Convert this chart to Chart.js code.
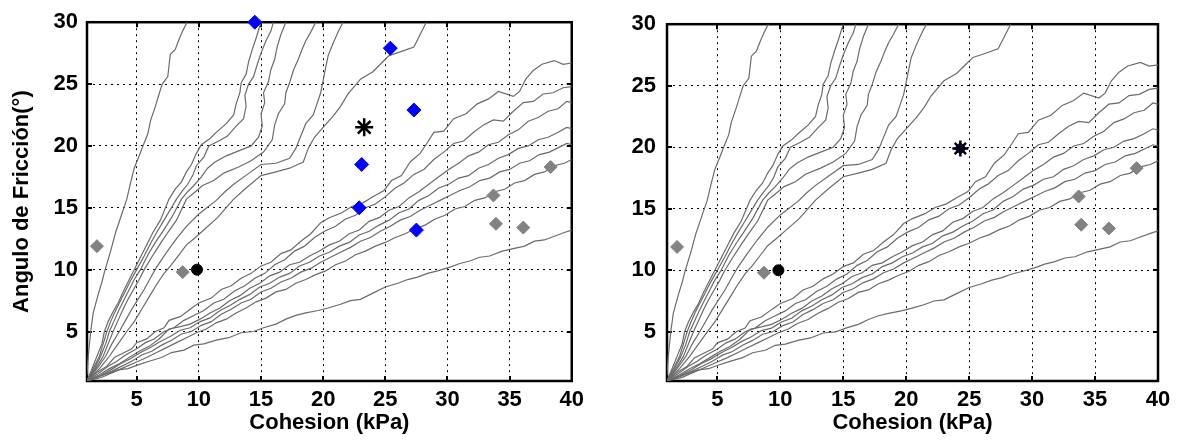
<!DOCTYPE html>
<html>
<head>
<meta charset="utf-8">
<script src="https://cdn.jsdelivr.net/npm/chart.js@4.4.1/dist/chart.umd.min.js"></script>
<style>
  html, body { margin: 0; padding: 0; background: #fff; }
  #wrap { position: relative; width: 1182px; height: 441px; }
  canvas { position: absolute; top: 0; }
</style>
</head>
<body>
<div id="wrap">
  <canvas id="chartLeft" width="590" height="441" style="left:0"></canvas>
  <canvas id="chartRight" width="592" height="441" style="left:590px"></canvas>
</div>
<script>
const xTicks = [5, 10, 15, 20, 25, 30, 35, 40];
const yTicks = [5, 10, 15, 20, 25, 30];

// contour lines, [cohesion kPa, friction angle deg]
const curveL1 = [[1,1.5],[1.1,3],[1.3,5],[1.5,6.5],[1.9,8],[2.2,9],[2.4,9.8],[2.9,11.5],[3.3,13],[3.8,14.5],[4.2,15.7],[4.5,17],[4.8,18.2],[5.2,19.2],[5.5,20],[5.9,21],[6.1,22],[6.5,23.2],[6.8,24.2],[7.05,25],[7.5,25.6],[7.6,26.5],[7.7,27.4],[8.1,27.8],[8.4,28.6],[8.7,29.3],[9.05,30]];
const curveA = [[1,1],[1.4,2],[1.8,3],[2.2,4],[2.4,5],[2.7,5.8],[3.1,6.6],[3.5,7.3],[3.9,8.2],[4.3,9],[4.8,10],[5.3,11],[5.8,12],[6.3,13],[6.9,14],[7.6,15.7],[8.1,16.5],[8.6,17.1],[9.0,17.9],[9.4,18.5],[9.8,19.4],[10.2,20.1],[10.9,20.6],[11.4,21.1],[12.2,21.8],[12.8,22.5],[13.0,23.4],[13.3,24.3],[13.4,25.1],[13.8,25.8],[14.0,26.8],[14.3,27.8],[14.6,28.7],[15.0,30]];
const curveB = [[1,1],[1.5,2],[2,3],[2.3,4],[2.6,5],[2.9,5.8],[3.3,6.7],[3.7,7.5],[4.1,8.3],[4.5,9.1],[5.0,10],[5.6,11.1],[6.1,12.1],[6.6,13],[7.2,14],[8.2,15.7],[8.7,16.4],[9.1,16.9],[9.5,17.6],[9.8,18.4],[10.4,19.1],[10.8,20],[11.6,20.4],[12.3,20.8],[13.0,21.6],[13.6,22.2],[13.8,23.2],[13.7,24.1],[14.0,25],[14.4,25.6],[14.7,26.6],[15.0,27.5],[15.4,28.5],[15.8,29.3],[16.0,30]];
const curveC = [[1,1],[1.6,2],[2.1,3],[2.5,4],[2.8,5],[3.2,5.9],[3.6,6.8],[4.0,7.6],[4.4,8.4],[4.8,9.2],[5.3,10],[5.9,11.2],[6.5,12.2],[7.1,13.1],[7.8,14.2],[8.6,15.7],[9.1,16.3],[9.6,16.8],[10.2,17.5],[10.7,18.2],[11.3,18.7],[12.2,19.2],[13.2,19.6],[14.2,20],[14.8,20.7],[15.1,21.6],[15.0,22.6],[15.3,23.5],[15.2,24.3],[15.6,25.2],[15.8,26.2],[16.1,27],[16.3,28],[16.6,29],[17.0,30]];
const curveD = [[1,1],[1.7,2],[2.3,3],[2.7,4],[3.1,5],[3.5,5.9],[3.9,6.8],[4.3,7.6],[4.8,8.5],[5.2,9.2],[5.6,10],[6.2,11],[6.9,12.1],[7.5,13],[8.2,14],[9.0,15.7],[9.6,16.2],[10.3,16.8],[11.2,17.2],[12.0,17.8],[13.2,18.3],[14.2,18.8],[15.2,19.5],[15.9,20.5],[16.1,21.7],[16.4,22.6],[16.9,23.4],[17.0,24.3],[17.3,25.1],[17.6,26.1],[18.0,27],[18.3,27.8],[18.6,28.5],[19.0,29.2],[19.4,30]];
const curveE = [[1,1],[1.8,2],[2.5,3],[3.0,4],[3.6,5],[4.1,5.9],[4.6,6.8],[5.1,7.6],[5.6,8.4],[6.2,9.5],[6.6,10.2],[7.4,11.4],[8.2,12.5],[9.0,13.5],[10.0,14.5],[11.4,15.6],[12.1,16.3],[12.8,16.9],[13.9,17.7],[15.0,18.5],[16.2,18.6],[17.3,19.0],[17.8,19.8],[18.2,20.8],[18.6,21.8],[19.2,22.5],[19.5,23.4],[19.8,24.3],[20.0,25.3],[20.2,26.3],[20.4,27.3],[20.8,28.3],[21.2,29.2],[21.6,30]];
const curveF = [[1,1],[2,2],[2.8,3],[3.5,4],[4.2,5],[4.8,5.8],[5.4,6.8],[6.0,7.8],[6.6,8.8],[7.2,9.7],[7.8,10.4],[8.4,11.2],[9.0,12],[9.6,12.5],[10.5,13.3],[11.5,14.2],[12.8,15.7],[13.8,16.6],[15.0,17.6],[16.2,17.9],[17.3,18.2],[18.4,18.7],[18.8,19.8],[19.3,20.7],[20.0,21.5],[20.8,22.4],[21.4,23.2],[22.0,24.2],[23.0,25.4],[24.0,26.0],[24.6,26.6],[25.3,27.3],[26.2,27.6],[27.3,28.0],[27.7,28.8],[28.3,30]];
const curveM1 = [[1,1],[1.8,1.7],[2.6,2.2],[3.2,2.9],[4,3.3],[4.6,3.6],[5,4.1],[5.8,4.4],[6.5,5.0],[7.2,5.3],[7.6,5.9],[8.5,6.2],[9.3,6.8],[10,7.3],[11,7.7],[11.8,8.4],[12.6,8.7],[13.4,9.3],[14.2,9.7],[15,10.3],[15.8,10.6],[16.6,11.3],[17.4,11.6],[18.2,12.3],[19,12.9],[19.8,13.8],[20.5,14.2],[21.5,14.6],[22.3,15.1],[23.2,15.4],[24,15.9],[24.9,16.4],[25.5,17.2],[26.3,17.6],[27,18.7],[27.8,19.4],[28.4,20.3],[28.9,21.1],[29.7,21.2],[30.5,22.2],[31.5,22.6],[32.4,23.4],[33.3,23.8],[34.1,24.4],[35.3,24.0],[35.8,24.4],[36.3,25.4],[36.9,26.1],[37.6,26.6],[38.6,26.9],[39.3,26.6],[40,26.7]];
const curveM2 = [[1,1],[1.9,1.6],[2.7,2.2],[3.4,2.6],[4.1,3.1],[5,3.6],[5.7,4.1],[6.4,4.4],[7.2,5.0],[8,5.3],[8.8,5.9],[9.6,6.3],[10.4,6.7],[11.2,7.3],[12,7.6],[12.9,8.3],[13.7,8.7],[14.5,9.3],[15.3,9.7],[16.1,10.4],[16.9,10.8],[17.7,11.5],[18.5,11.9],[19.3,12.6],[20.1,13.1],[21,13.5],[21.8,14.1],[22.6,14.4],[23.4,15.0],[24.2,15.3],[25,15.9],[25.8,16.6],[26.5,17.0],[27.3,17.7],[28.1,18.1],[28.9,18.9],[29.7,19.5],[30.5,20.2],[31.3,20.4],[32.1,21.1],[32.9,21.7],[33.7,22.1],[34.5,22.0],[35.3,22.8],[36.1,23.5],[36.9,23.6],[37.7,24.2],[38.5,24.3],[39.3,24.7],[40,24.8]];
const curveM3 = [[1,1],[2,1.5],[2.8,2.0],[3.6,2.4],[4.4,2.9],[5.2,3.4],[6,3.8],[6.8,4.4],[7.6,5.2],[8.5,5.4],[9.3,5.6],[10.1,6.0],[10.9,6.5],[11.7,6.9],[12.5,7.5],[13.3,7.9],[14.1,8.5],[14.9,8.9],[15.7,9.5],[16.5,9.8],[17.3,10.4],[18.1,10.6],[18.9,11.1],[19.7,11.5],[20.5,12.0],[21.3,12.3],[22.1,12.9],[22.9,13.2],[23.7,13.9],[24.5,14.2],[25.3,14.8],[26.1,15.1],[26.9,15.8],[27.7,16.3],[28.5,16.9],[29.3,17.5],[30.1,18.1],[30.9,18.6],[31.7,19.2],[32.5,19.5],[33.3,20.1],[34.1,20.3],[34.9,20.9],[35.7,21.3],[36.5,22.0],[37.3,22.3],[38.1,22.8],[38.9,23.0],[39.6,23.6],[40,23.5]];
const curveM4 = [[1,1],[2,1.4],[2.9,1.9],[3.7,2.4],[4.5,2.8],[5.3,3.3],[6.1,3.7],[6.9,4.2],[7.7,4.6],[8.5,5.1],[9.3,5.3],[10.1,5.8],[10.9,6.1],[11.7,6.7],[12.5,7.1],[13.3,7.6],[14.1,8.0],[14.9,8.6],[15.7,8.9],[16.5,9.4],[17.3,9.7],[18.1,10.3],[18.9,10.6],[19.7,11.1],[20.5,11.4],[21.3,11.9],[22.1,12.2],[22.9,12.8],[23.7,13.1],[24.5,13.6],[25.3,14.0],[26.1,14.6],[26.9,14.9],[27.7,15.6],[28.5,16.0],[29.3,16.6],[30.1,16.9],[30.9,17.4],[31.7,17.6],[32.5,18.2],[33.3,18.5],[34.1,19.0],[34.9,19.3],[35.7,19.8],[36.5,20.0],[37.3,20.5],[38.1,20.7],[38.9,21.1],[39.6,21.5],[40,21.4]];
const curveM5 = [[1,1],[2.1,1.4],[3,1.8],[3.8,2.2],[4.6,2.6],[5.4,3.1],[6.2,3.4],[7,3.9],[7.8,4.3],[8.6,4.8],[9.4,5.0],[10.2,5.5],[11,5.8],[11.8,6.4],[12.6,6.8],[13.4,7.3],[14.2,7.6],[15,8.2],[15.8,8.5],[16.6,9.0],[17.4,9.3],[18.2,9.8],[19,10.1],[19.8,10.6],[20.6,11.0],[21.4,11.4],[22.2,11.8],[23,12.3],[23.8,12.6],[24.6,13.1],[25.4,13.5],[26.2,14.0],[27,14.3],[27.8,14.8],[28.6,15.2],[29.4,15.6],[30.2,16.0],[31,16.4],[31.8,16.7],[32.6,17.2],[33.4,17.4],[34.2,17.9],[35,18.1],[35.8,18.6],[36.6,18.8],[37.4,19.3],[38.2,19.5],[39,19.9],[39.6,20.2],[40,20.1]];
const curveM6 = [[1,1],[2.2,1.3],[3.1,1.7],[4,2.1],[4.9,2.5],[5.8,2.9],[6.6,3.3],[7.4,3.7],[8.2,4.1],[9,4.5],[9.8,4.9],[10.6,5.2],[11.4,5.7],[12.2,6.0],[13,6.5],[13.8,6.9],[14.6,7.4],[15.4,7.7],[16.2,8.2],[17,8.4],[17.8,8.9],[18.6,9.2],[19.4,9.6],[20.2,9.9],[21,10.4],[21.8,10.7],[22.6,11.2],[23.4,11.5],[24.2,11.9],[25,12.2],[25.8,12.6],[26.6,12.9],[27.4,13.3],[28.2,13.6],[29,14.1],[29.8,14.4],[30.6,14.9],[31.4,15.1],[32.2,15.6],[33,15.8],[33.8,16.3],[34.6,16.5],[35.4,17.0],[36.2,17.2],[37,17.7],[37.8,17.9],[38.6,18.4],[39.4,18.6],[40,18.9]];
const curveLow = [[1,1],[1.8,1.3],[2.6,1.6],[3.5,1.9],[4.3,2.0],[5.1,2.3],[6,2.6],[7,2.9],[7.8,3.3],[8.8,3.5],[9.6,3.9],[10.4,4.0],[11.4,4.3],[12.4,4.5],[13.4,4.9],[14.4,5.0],[15.2,5.3],[16.2,5.6],[17,6.0],[17.8,6.3],[18.6,6.5],[19.6,6.7],[20.4,6.9],[21.4,7.2],[22.2,7.5],[23,7.6],[24,8.1],[25,8.6],[26,8.9],[26.8,9.2],[27.6,9.4],[28.4,9.7],[29.2,9.9],[30.2,10.2],[31,10.5],[31.8,10.7],[32.6,11.0],[33.4,11.1],[34.4,11.5],[35.3,11.7],[36.2,11.9],[37,12.3],[37.8,12.4],[38.6,12.7],[39.4,13.0],[40,13.2]];

const contours = [curveL1, curveA, curveB, curveC, curveD, curveE, curveF,
                  curveM1, curveM2, curveM3, curveM4, curveM5, curveM6, curveLow];

// markers
const grayX = [1.8, 8.7, 33.7, 33.9, 36.1, 38.3];
const grayY = [11.9, 9.8, 16.0, 13.7, 13.4, 18.3];
const blackDotX = [9.85];
const blackDotY = [10];
const blueLeftX = [14.5, 25.4, 27.3, 23.1, 22.9, 27.5];
const blueLeftY = [30, 27.9, 22.9, 18.5, 15.0, 13.2];
const starLeftX = [23.3];
const starLeftY = [21.5];
const blueRightX = [24.3];
const blueRightY = [19.9];
const starRightX = [24.3];
const starRightY = [19.9];

const FONT = '"Liberation Sans", Arial, Helvetica, sans-serif';

const pts = (xs, ys) => xs.map((x, i) => ({ x: x, y: ys[i] }));

const framePlugin = {
  id: 'frame',
  beforeDatasetsDraw(chart) {
    const { ctx, chartArea: a, scales } = chart;
    ctx.save();
    ctx.strokeStyle = '#000';
    ctx.lineWidth = 2;
    ctx.beginPath();
    scales.x.ticks.forEach(t => {
      const px = Math.round(scales.x.getPixelForValue(t.value));
      ctx.moveTo(px, a.bottom); ctx.lineTo(px, a.bottom - 5);
      ctx.moveTo(px, a.top); ctx.lineTo(px, a.top + 5);
    });
    scales.y.ticks.forEach(t => {
      const py = Math.round(scales.y.getPixelForValue(t.value));
      ctx.moveTo(a.left, py); ctx.lineTo(a.left + 5, py);
      ctx.moveTo(a.right, py); ctx.lineTo(a.right - 5, py);
    });
    ctx.stroke();
    ctx.lineWidth = 2.5;
    ctx.strokeRect(a.left, a.top, a.right - a.left, a.bottom - a.top);
    ctx.restore();
  }
};

function buildChart(id, opt) {
  const datasets = [
    { data: pts(opt.starX, opt.starY), pointStyle: 'star', pointRadius: opt.starR,
      borderColor: '#000', backgroundColor: '#000', borderWidth: 2.5, clip: false },
    { data: pts(opt.blueX, opt.blueY), pointStyle: 'rectRot', pointRadius: opt.blueR,
      backgroundColor: '#0000ff', borderColor: '#0000ff', borderWidth: 1, clip: false },
    { data: pts(blackDotX, blackDotY), pointStyle: 'circle', pointRadius: 5.5,
      backgroundColor: '#000', borderColor: '#000', borderWidth: 1 },
    { data: pts(grayX, grayY), pointStyle: 'rectRot', pointRadius: 6.5,
      backgroundColor: '#828282', borderColor: '#828282', borderWidth: 1 }
  ];
  contours.forEach(c => {
    datasets.push({
      data: c.map(p => ({ x: p[0], y: p[1] })),
      showLine: true, pointRadius: 0, borderColor: '#6b6b6b', borderWidth: 1.2,
      fill: false, tension: 0
    });
  });

  return new Chart(document.getElementById(id), {
    type: 'scatter',
    data: { datasets: datasets },
    options: {
      responsive: false,
      animation: false,
      devicePixelRatio: 1,
      layout: { padding: { left: 0, right: opt.padRight, top: 15, bottom: 0 } },
      plugins: { legend: { display: false }, tooltip: { enabled: false } },
      scales: {
        x: {
          type: 'linear', min: 1, max: 40,
          afterBuildTicks: s => { s.ticks = xTicks.map(v => ({ value: v })); },
          afterFit: s => { s.height = 60; },
          ticks: { font: { family: FONT, size: 22, weight: 'bold' }, color: '#000',
                   padding: 6, maxRotation: 0, autoSkip: false },
          grid: { color: '#000', lineWidth: 1, drawTicks: false },
          border: { display: false, dash: [2, 4] },
          title: { display: true, text: 'Cohesion (kPa)', color: '#000',
                   font: { family: FONT, size: 22, weight: 'bold' },
                   padding: { top: 0, bottom: 5 } }
        },
        y: {
          type: 'linear', min: 1, max: 30,
          afterBuildTicks: s => { s.ticks = yTicks.map(v => ({ value: v })); },
          afterFit: s => { s.width = opt.yWidth; },
          ticks: { font: { family: FONT, size: 22, weight: 'bold' }, color: '#000',
                   padding: opt.yPad, autoSkip: false },
          grid: { color: '#000', lineWidth: 1, drawTicks: false },
          border: { display: false, dash: [2, 4] },
          title: { display: opt.yTitle, text: 'Angulo de Fricción(°)', color: '#000',
                   font: { family: FONT, size: 22, weight: 'bold' },
                   padding: { top: 9, bottom: 0 } }
        }
      }
    },
    plugins: [framePlugin]
  });
}

buildChart('chartLeft', {
  blueX: blueLeftX, blueY: blueLeftY, starX: starLeftX, starY: starLeftY,
  starR: 9, blueR: 7, yWidth: 87, yPad: 9, padRight: 13, yTitle: true
});
buildChart('chartRight', {
  blueX: blueRightX, blueY: blueRightY, starX: starRightX, starY: starRightY,
  starR: 8, blueR: 6, yWidth: 77, yPad: 11, padRight: 24, yTitle: false
});
</script>
</body>
</html>
